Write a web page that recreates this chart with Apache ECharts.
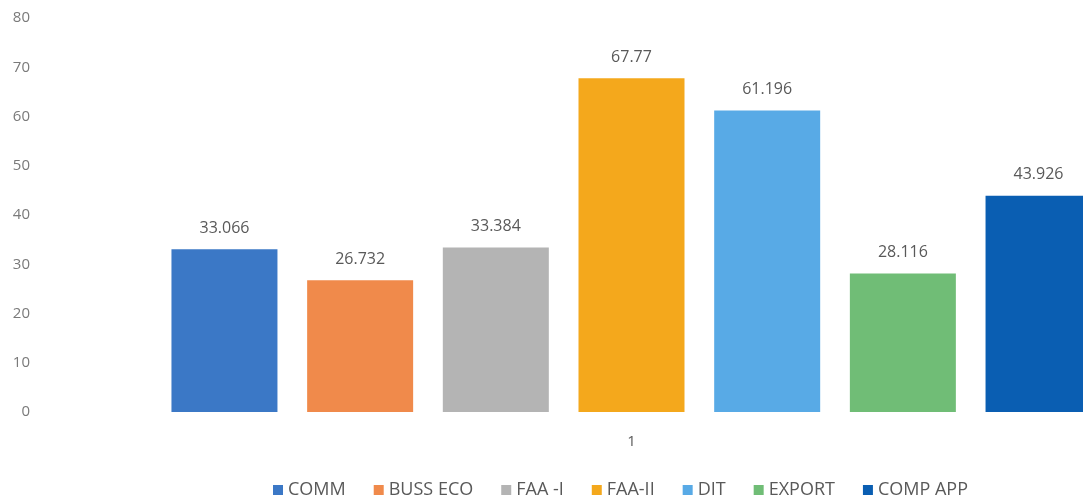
<!DOCTYPE html>
<html>
<head>
<meta charset="utf-8">
<script src="https://cdn.jsdelivr.net/npm/echarts@6/dist/echarts.min.js"></script>
<style>html,body{margin:0;padding:0;background:#fff}</style>
</head>
<body>
<div id="main" style="width:1083px;height:504px"></div>
<script>
// data
var categories = ['1'];
var seriesNames = ['COMM', 'BUSS ECO', 'FAA -I', 'FAA-II', 'DIT', 'EXPORT', 'COMP APP'];
var seriesValues = [33.066, 26.732, 33.384, 67.77, 61.196, 28.116, 43.926];
var colors = ['#3b78c6', '#f08a4b', '#b4b4b4', '#f4a81c', '#58aae6', '#70bd76', '#0a5eb2'];

var chart = echarts.init(document.getElementById('main'));
var series = seriesNames.map(function (name, i) {
  return {
    name: name,
    type: 'bar',
    data: [seriesValues[i]],
    barWidth: 106,
    barGap: '28%',
    clip: false,
    itemStyle: {color: colors[i]},
    label: {
      show: true,
      position: 'top',
      distance: 13,
      color: '#595959',
      fontSize: 16,
      fontFamily: 'Open Sans',
      formatter: function (p) { return String(p.value); }
    }
  };
});

// plot band runs past the right edge (the reference is cropped there),
// so the grid starts far right and the y labels are pushed back with margin
chart.setOption({
  animation: false,
  color: colors,
  grid: {left: 180, top: 18, right: 0, height: 394},
  legend: {
    bottom: 0,
    left: 268,
    itemWidth: 10,
    itemHeight: 10,
    itemGap: 28,
    icon: 'rect',
    textStyle: {color: '#595959', fontSize: 18, fontFamily: 'Open Sans'}
  },
  xAxis: {
    type: 'category',
    data: categories,
    axisLine: {show: false},
    axisTick: {show: false},
    axisLabel: {color: '#595959', fontSize: 15, margin: 22, fontFamily: 'Open Sans'}
  },
  yAxis: {
    type: 'value',
    min: 0,
    max: 80,
    interval: 10,
    splitLine: {show: false},
    axisLine: {show: false},
    axisTick: {show: false},
    axisLabel: {color: '#7a7a7a', fontSize: 15, margin: 150, fontFamily: 'Open Sans'}
  },
  series: series
});
</script>
</body>
</html>
